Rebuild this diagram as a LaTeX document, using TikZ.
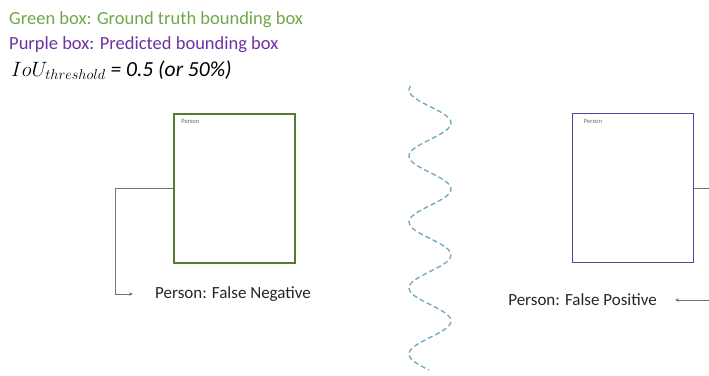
\documentclass[tikz,border=0pt]{standalone}
\usepackage{fontspec}
\setmainfont{Carlito}
\usetikzlibrary{arrows.meta}

\definecolor{gtgreen}{RGB}{112,168,72}
\definecolor{gtbox}{RGB}{84,122,52}
\definecolor{predpurple}{RGB}{112,48,160}
\definecolor{predbox}{RGB}{92,62,160}
\definecolor{wavecol}{RGB}{120,172,196}

\begin{document}
\begin{tikzpicture}[x=1pt, y=-1pt,
    legend/.style={anchor=west, inner sep=0pt, font=\fontsize{18.5}{22}\selectfont},
    bbox/.style={draw, line width=1.8pt, minimum width=121pt, minimum height=149pt, inner sep=0pt},
    tag/.style={anchor=north west, inner sep=0pt, text=black!60, font=\fontsize{6.5}{7}\selectfont},
    result/.style={inner sep=0pt, text=black!85, font=\fontsize{17}{20}\selectfont},
    link/.style={draw=black!55, line width=0.8pt, -{Stealth[length=4pt, width=3.5pt]}}]
    \useasboundingbox (0,0) rectangle (709,375);
    \clip (0,0) rectangle (709,375);

    % legend
    \node[legend, text=gtgreen] (gtlegend) at (9,20) {Green box: Ground truth bounding box};
    \node[legend, text=predpurple] (predlegend) at (9,45) {Purple box: Predicted bounding box};
    \node[legend, text=black, font=\fontsize{21.5}{24}\selectfont] (ioulegend) at (11,70)
        {$IoU_{threshold}$ \itshape = 0.5 (or 50\%)};

    % boxes
    \node[bbox, draw=gtbox] (gtrect) at (234.5,188.5) {};
    \node[tag] (gttag) at ([xshift=8pt, yshift=-6pt]gtrect.north west) {Person};
    \node[bbox, draw=predbox, line width=1.5pt] (predrect) at (633,188) {};
    \node[tag] (predtag) at ([xshift=12pt, yshift=-6pt]predrect.north west) {Person};

    % results
    \node[result, anchor=west] (fnlabel) at (155,294) {Person: False Negative};
    \node[result, anchor=east] (fplabel) at (657,300) {Person: False Positive};

    \draw[link, shorten >=22pt] (gtrect.west) -- ++(-58,0) |- (fnlabel.west);
    \draw[link, shorten >=18pt] (predrect.east) -- ++(30,0) |- (fplabel.east);

    % separator
    \draw[wavecol, line width=1.4pt, dash pattern=on 5pt off 3pt]
        plot[smooth, domain=86:370, samples=120] ({430-21*cos((\x-90)*5.4545)}, \x);
\end{tikzpicture}
\end{document}
